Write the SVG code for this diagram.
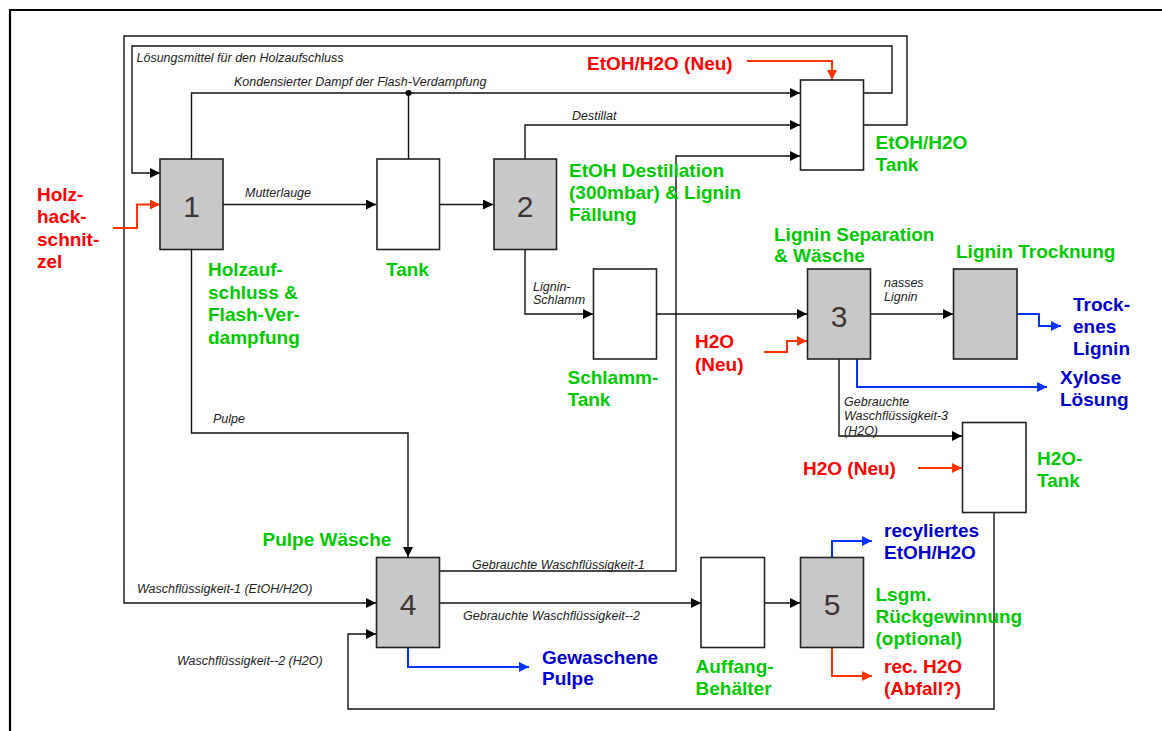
<svg xmlns="http://www.w3.org/2000/svg" width="1162" height="731" viewBox="0 0 1162 731">
<style>
.frame{fill:none;stroke:#000;stroke-width:2.2}
.box{stroke:#222;stroke-width:1.6}
.proc{fill:#c8c8c8}
.tank{fill:#fff}
.num{font-family:"Liberation Sans",Arial,sans-serif;font-size:30px;fill:#3d3535;text-anchor:middle}
.c{fill:none;stroke:#111;stroke-width:1.4}
.cr{fill:none;stroke:#ff3300;stroke-width:2}
.cb{fill:none;stroke:#0033ff;stroke-width:2}
.lab{font-family:"Liberation Sans",Arial,sans-serif;font-size:12.5px;font-style:italic;fill:#222}
.g,.r,.b{font-family:"Liberation Sans",Arial,sans-serif;font-size:19px;font-weight:bold}
.g{fill:#00c800}
.r{fill:#ff0000}
.b{fill:#0000cc}
</style>
<defs>
<marker id="ak" markerUnits="userSpaceOnUse" markerWidth="12" markerHeight="10" refX="10" refY="5" orient="auto"><path d="M0,0 L10,5 L0,10 Z" fill="#000"/></marker>
<marker id="ar" markerUnits="userSpaceOnUse" markerWidth="12" markerHeight="10" refX="10" refY="5" orient="auto"><path d="M0,0 L10,5 L0,10 Z" fill="#ff3300"/></marker>
<marker id="ab" markerUnits="userSpaceOnUse" markerWidth="12" markerHeight="10" refX="10" refY="5" orient="auto"><path d="M0,0 L10,5 L0,10 Z" fill="#0033ff"/></marker>
</defs>

<path class="frame" d="M10,740 V10 H1170"/>

<g id="connectors">
<path class="c" d="M863,93 H892 V46 H132 V173 H160" marker-end="url(#ak)"/>
<path class="c" d="M863,125 H907 V36 H124 V603 H376" marker-end="url(#ak)"/>
<path class="c" d="M191.5,159 V93 H800" marker-end="url(#ak)"/>
<path class="c" d="M408.5,159 V93"/>
<circle cx="408.5" cy="93" r="3" fill="#000"/>
<path class="c" d="M525,159 V125 H800" marker-end="url(#ak)"/>
<path class="c" d="M223,204.5 H376" marker-end="url(#ak)"/>
<path class="c" d="M439,204.5 H493" marker-end="url(#ak)"/>
<path class="c" d="M525,250 V314 H593" marker-end="url(#ak)"/>
<path class="c" d="M657,314 H807" marker-end="url(#ak)"/>
<path class="c" d="M870,314 H953" marker-end="url(#ak)"/>
<path class="c" d="M191.5,250 V433 H408 V557" marker-end="url(#ak)"/>
<path class="c" d="M439,571 H676 V156 H800" marker-end="url(#ak)"/>
<path class="c" d="M439,603 H701" marker-end="url(#ak)"/>
<path class="c" d="M764,603 H800" marker-end="url(#ak)"/>
<path class="c" d="M839,359 V436 H962" marker-end="url(#ak)"/>
<path class="c" d="M994,512 V709 H348 V634 H376" marker-end="url(#ak)"/>

<path class="cr" d="M113,228 H137 V204.5 H160" marker-end="url(#ar)"/>
<path class="cr" d="M747,61 H832 V80" marker-end="url(#ar)"/>
<path class="cr" d="M764,352 H787 V341 H807" marker-end="url(#ar)"/>
<path class="cr" d="M918,468 H962" marker-end="url(#ar)"/>
<path class="cr" d="M832,647 V676 H872" marker-end="url(#ar)"/>

<path class="cb" d="M1017,314 H1039 V326 H1061" marker-end="url(#ab)"/>
<path class="cb" d="M857,359 V387 H1047" marker-end="url(#ab)"/>
<path class="cb" d="M408,647 V667 H529" marker-end="url(#ab)"/>
<path class="cb" d="M832,557 V541 H872" marker-end="url(#ab)"/>
</g>

<g id="n1"><rect class="box proc" x="160" y="159" width="63" height="90.5"/><text class="num" x="191.5" y="216.5">1</text></g>
<g id="tank1"><rect class="box tank" x="377" y="159" width="62.5" height="90.5"/></g>
<g id="n2"><rect class="box proc" x="494" y="159" width="62.5" height="90.5"/><text class="num" x="525" y="216.5">2</text></g>
<g id="etohtank"><rect class="box tank" x="800.5" y="80" width="63" height="90"/></g>
<g id="schlammtank"><rect class="box tank" x="593.5" y="269" width="63" height="90"/></g>
<g id="n3"><rect class="box proc" x="807.5" y="269" width="63" height="90"/><text class="num" x="839" y="327">3</text></g>
<g id="trocknung"><rect class="box proc" x="953.5" y="269" width="63.5" height="90"/></g>
<g id="h2otank"><rect class="box tank" x="962.5" y="422.5" width="63.5" height="90"/></g>
<g id="n4"><rect class="box proc" x="376.5" y="557.5" width="63" height="90"/><text class="num" x="408" y="615">4</text></g>
<g id="auffang"><rect class="box tank" x="701" y="557.5" width="63.5" height="90"/></g>
<g id="n5"><rect class="box proc" x="800.5" y="557.5" width="63" height="90"/><text class="num" x="832" y="615">5</text></g>

<g id="labels-italic">
<text class="lab" x="136.5" y="61.5">Lösungsmittel für den Holzaufschluss</text>
<text class="lab" x="234" y="86">Kondensierter Dampf der Flash-Verdampfung</text>
<text class="lab" x="572" y="120">Destillat</text>
<text class="lab" x="245" y="196.5">Mutterlauge</text>
<text class="lab" x="533" y="290.5">Lignin-</text>
<text class="lab" x="533" y="304">Schlamm</text>
<text class="lab" x="213" y="422.5">Pulpe</text>
<text class="lab" x="884" y="286.5">nasses</text>
<text class="lab" x="884" y="300.5">Lignin</text>
<text class="lab" x="844" y="406">Gebrauchte</text>
<text class="lab" x="844" y="420">Waschflüssigkeit-3</text>
<text class="lab" x="844" y="435">(H2O)</text>
<text class="lab" x="472" y="569">Gebrauchte Waschflüssigkeit-1</text>
<text class="lab" x="137" y="593">Waschflüssigkeit-1 (EtOH/H2O)</text>
<text class="lab" x="463" y="620">Gebrauchte Waschflüssigkeit--2</text>
<text class="lab" x="177" y="665">Waschflüssigkeit--2 (H2O)</text>
</g>

<g id="labels-green">
<text class="g" x="208" y="276">Holzauf-</text>
<text class="g" x="208" y="298.5">schluss &amp;</text>
<text class="g" x="208" y="321">Flash-Ver-</text>
<text class="g" x="208" y="343.5">dampfung</text>
<text class="g" x="386" y="276">Tank</text>
<text class="g" x="569" y="177">EtOH Destillation</text>
<text class="g" x="569" y="199">(300mbar) &amp; Lignin</text>
<text class="g" x="569" y="221">Fällung</text>
<text class="g" x="875.5" y="149">EtOH/H2O</text>
<text class="g" x="875.5" y="171">Tank</text>
<text class="g" x="774" y="240.5">Lignin Separation</text>
<text class="g" x="774" y="261.5">&amp; Wäsche</text>
<text class="g" x="956" y="257.5">Lignin Trocknung</text>
<text class="g" x="567.5" y="383.5">Schlamm-</text>
<text class="g" x="567.5" y="406">Tank</text>
<text class="g" x="1037" y="465">H2O-</text>
<text class="g" x="1037" y="487">Tank</text>
<text class="g" x="262.5" y="545.5">Pulpe Wäsche</text>
<text class="g" x="695.5" y="672.5">Auffang-</text>
<text class="g" x="695.5" y="695">Behälter</text>
<text class="g" x="875.5" y="601">Lsgm.</text>
<text class="g" x="875.5" y="623">Rückgewinnung</text>
<text class="g" x="875.5" y="645">(optional)</text>
</g>

<g id="labels-red">
<text class="r" x="37" y="201">Holz-</text>
<text class="r" x="37" y="223">hack-</text>
<text class="r" x="37" y="245.5">schnit-</text>
<text class="r" x="37" y="268">zel</text>
<text class="r" x="587" y="70">EtOH/H2O (Neu)</text>
<text class="r" x="695" y="347.5">H2O</text>
<text class="r" x="695" y="370.5">(Neu)</text>
<text class="r" x="803" y="475">H2O (Neu)</text>
<text class="r" x="884" y="672.5">rec. H2O</text>
<text class="r" x="884" y="695">(Abfall?)</text>
</g>

<g id="labels-blue">
<text class="b" x="1073" y="310.5">Trock-</text>
<text class="b" x="1073" y="332.5">enes</text>
<text class="b" x="1073" y="354.5">Lignin</text>
<text class="b" x="1060" y="383.5">Xylose</text>
<text class="b" x="1060" y="405.5">Lösung</text>
<text class="b" x="542" y="663.5">Gewaschene</text>
<text class="b" x="542" y="685">Pulpe</text>
<text class="b" x="884" y="536.5">recyliertes</text>
<text class="b" x="884" y="559">EtOH/H2O</text>
</g>
</svg>
